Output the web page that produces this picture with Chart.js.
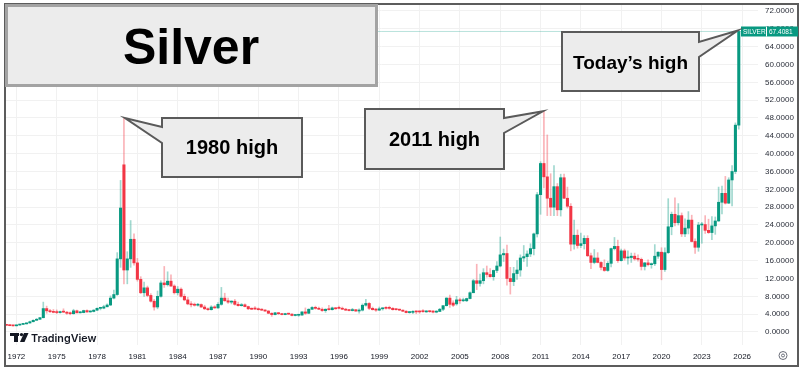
<!DOCTYPE html>
<html>
<head>
<meta charset="utf-8">
<script src="https://cdn.jsdelivr.net/npm/chart.js@4.4.1/dist/chart.umd.min.js"></script>
<style>
  html, body { margin: 0; padding: 0; background: #ffffff; }
  #wrap { width: 800px; height: 369px; position: relative; }
</style>
</head>
<body>
<div id="wrap"><canvas id="c" width="800" height="369"></canvas></div>
<script>
// ---------- DATA (quarterly candles, USD/oz) ----------
const firstYear = 1971, lastYear = 2025;
const categories = [];
for (let y = firstYear; y <= lastYear; y++) for (let q = 1; q <= 4; q++) categories.push(y + ' Q' + q);

const open = [
  1.60,1.52,1.50,1.42, 1.38,1.55,1.70,1.82, 2.02,2.30,2.62,2.85, 3.20,5.25,4.75,4.55,
  4.40,4.35,4.55,4.45, 4.20,4.10,4.75,4.30, 4.35,4.80,4.50,4.60, 4.90,5.30,5.35,5.65,
  6.05,7.60,8.40,16.40, 37.50,13.90,16.40,20.80, 15.50,11.80,8.80,9.90, 8.20,6.90,5.60,8.00,
  11.00,10.60,11.40,10.30, 8.80,9.60,8.00,7.20, 6.30,6.10,6.00,6.15, 5.60,5.20,5.00,5.60,
  5.40,6.20,7.60,7.00, 6.70,6.90,6.20,5.90, 6.10,5.70,5.20,5.30, 5.15,5.00,4.90,4.70,
  4.20,3.90,4.30,4.10, 3.90,4.10,4.00,3.70, 3.75,3.80,4.50,4.20, 5.10,5.50,5.30,5.10,
  4.80,5.10,5.00,5.40, 5.50,5.30,5.10,4.90, 4.80,5.00,4.70,4.90, 6.00,6.40,5.30,5.00,
  4.90,5.20,5.50,5.40, 5.30,5.10,5.00,4.90, 4.65,4.35,4.40,4.60, 4.55,4.70,4.50,4.65,
  4.70,4.45,4.60,5.10, 5.90,7.60,6.50,6.30, 7.20,7.00,7.00,7.50, 8.80,11.50,10.90,11.50,
  13.30,12.90,12.40,13.80, 14.80,17.30,17.60,12.00, 11.30,13.10,13.90,16.60, 16.90,17.50,18.70,22.00,
  30.80,37.80,34.80,30.00, 28.00,32.60,27.40,34.60, 30.00,28.20,19.70,21.70, 19.40,19.80,21.00,17.10,
  15.60,16.60,15.60,14.50, 13.80,15.40,18.70,19.20, 16.00,18.20,16.60,16.70, 17.00,16.40,16.30,14.70,
  15.50,15.10,15.30,17.00, 17.90,14.00,17.80,23.60, 26.40,24.50,26.10,22.00, 23.30,25.10,20.30,19.00,
  24.00,24.10,22.80,22.30, 23.80,24.90,29.10,31.10, 28.90,34.10,36.00,46.40
];
const high = [
  1.66,1.62,1.56,1.48, 1.58,1.75,1.90,2.05, 2.45,2.75,3.05,3.30, 6.70,5.80,5.10,5.05,
  4.95,4.70,5.20,4.60, 4.50,5.10,4.90,4.60, 4.90,4.95,4.70,5.00, 5.40,5.55,6.00,6.30,
  8.10,9.40,17.80,34.00, 48.00,18.00,25.00,22.00, 16.50,12.40,11.20,10.30, 8.60,7.30,9.20,11.50,
  14.70,13.50,12.80,10.60, 10.20,9.90,8.50,7.80, 6.80,6.50,6.40,6.30, 6.00,5.40,5.90,5.90,
  6.60,10.00,8.70,7.60, 7.00,7.30,6.70,6.40, 6.30,5.80,5.40,5.70, 5.40,5.20,5.05,4.80,
  4.30,4.40,4.40,4.20, 4.20,4.20,4.10,3.90, 3.85,4.60,5.40,5.20, 5.70,5.80,5.60,5.40,
  5.20,6.00,5.60,5.50, 5.80,5.60,5.30,5.00, 5.30,5.00,5.20,6.30, 7.30,6.60,5.60,5.30,
  5.60,5.40,5.70,5.80, 5.50,5.20,5.10,4.95, 4.80,4.60,4.80,4.70, 4.70,5.00,4.80,4.75,
  4.80,4.80,5.30,5.90, 7.70,8.30,7.00,8.00, 7.60,7.60,7.60,9.00, 11.80,15.20,13.00,14.20,
  14.80,14.20,13.90,15.80, 21.30,18.60,19.50,14.50, 14.50,16.00,17.30,19.40, 18.20,19.80,22.20,31.30,
  38.20,49.50,44.20,35.50, 37.30,33.30,35.40,35.40, 32.50,28.80,25.10,22.90, 22.20,21.60,21.60,17.70,
  18.50,17.80,15.80,16.20, 15.80,18.80,21.20,20.60, 18.60,18.60,18.20,17.70, 17.70,17.30,16.60,15.60,
  16.20,15.50,19.60,18.00, 18.90,18.90,29.90,26.90, 30.10,28.80,26.70,25.40, 27.00,26.20,20.90,24.60,
  24.60,26.10,25.30,25.90, 25.80,32.50,32.70,34.90, 34.60,37.30,46.90,67.60
];
const low = [
  1.50,1.46,1.38,1.30, 1.36,1.52,1.66,1.78, 1.98,2.25,2.60,2.80, 3.15,4.20,4.35,4.30,
  4.10,4.20,4.35,3.95, 3.85,4.00,4.25,4.25, 4.30,4.40,4.40,4.50, 4.80,4.95,5.20,5.60,
  5.90,7.40,8.20,14.50, 10.80,10.80,14.50,15.00, 11.40,8.60,8.00,7.90, 6.70,4.90,5.20,7.80,
  10.00,10.30,10.20,8.50, 8.30,7.80,7.00,6.10, 5.60,5.80,5.80,5.50, 5.00,4.85,4.90,5.30,
  5.30,6.00,6.90,6.40, 6.30,6.00,5.80,5.80, 5.60,5.00,5.00,5.00, 4.90,4.80,4.60,4.10,
  3.50,3.80,3.90,3.80, 3.85,3.90,3.60,3.60, 3.50,3.70,3.95,4.10, 5.00,5.10,5.00,4.60,
  4.40,4.90,4.90,5.10, 5.20,5.00,4.80,4.70, 4.70,4.60,4.20,4.70, 5.80,5.00,4.90,4.60,
  4.80,4.90,5.10,5.10, 4.90,4.90,4.80,4.60, 4.30,4.20,4.10,4.10, 4.20,4.40,4.40,4.40,
  4.30,4.30,4.60,4.80, 5.80,5.50,5.70,6.00, 6.40,6.80,6.80,7.40, 8.80,9.50,10.30,10.80,
  12.30,12.30,11.60,13.30, 14.60,15.80,10.50,8.50, 10.40,11.80,12.50,15.80, 14.70,16.90,17.30,21.30,
  26.40,32.30,26.10,26.10, 26.10,26.10,26.00,29.90, 27.80,18.20,18.60,18.80, 18.90,18.60,16.90,14.20,
  15.30,15.50,13.90,13.60, 13.60,14.60,18.40,15.60, 15.90,16.10,15.20,15.60, 16.10,15.90,13.90,13.90,
  14.80,14.30,14.90,16.50, 11.70,13.60,17.60,21.80, 23.80,24.00,21.40,21.40, 22.00,20.20,17.60,18.10,
  19.90,22.10,22.10,20.70, 21.90,24.80,26.50,28.70, 28.80,28.30,35.50,45.50
];
const close = [
  1.52,1.50,1.42,1.38, 1.55,1.70,1.82,2.02, 2.30,2.62,2.85,3.20, 5.25,4.75,4.55,4.40,
  4.35,4.55,4.45,4.20, 4.10,4.75,4.30,4.35, 4.80,4.50,4.60,4.90, 5.30,5.35,5.65,6.05,
  7.60,8.40,16.40,27.80, 13.90,16.40,20.80,15.50, 11.80,8.80,9.90,8.20, 6.90,5.60,8.00,11.00,
  10.60,11.40,10.30,8.80, 9.60,8.00,7.20,6.30, 6.10,6.00,6.15,5.60, 5.20,5.00,5.60,5.40,
  6.20,7.60,7.00,6.70, 6.90,6.20,5.90,6.10, 5.70,5.20,5.10,5.15, 5.00,4.90,4.70,4.20,
  3.90,4.30,4.10,3.90, 4.10,4.00,3.70,3.75, 3.80,4.50,4.20,5.10, 5.50,5.30,5.10,4.80,
  5.10,5.00,5.40,5.20, 5.30,5.10,4.90,4.80, 5.00,4.70,4.90,6.00, 6.40,5.30,5.00,4.90,
  5.20,5.30,5.30,5.30, 5.00,5.00,4.90,4.65, 4.35,4.40,4.60,4.50, 4.50,4.55,4.60,4.55,
  4.45,4.60,5.10,5.90, 7.60,6.20,6.00,7.20, 7.00,7.20,7.50,8.80, 11.50,10.90,11.50,13.30,
  12.90,12.40,13.80,14.80, 17.30,17.60,12.00,11.30, 13.10,13.90,16.60,16.90, 17.50,18.70,22.00,30.80,
  37.80,34.80,30.00,28.00, 32.60,27.40,34.60,30.00, 28.20,19.70,21.70,19.40, 19.80,21.00,17.10,15.60,
  16.60,15.60,14.50,13.80, 15.40,18.70,19.20,16.00, 18.20,16.60,16.70,17.00, 16.40,16.30,14.70,15.50,
  15.10,15.30,17.00,17.90, 14.00,17.80,23.60,26.40, 24.50,26.10,22.00,23.30, 25.10,20.30,19.00,24.00,
  24.10,22.80,22.30,23.80, 24.90,29.10,31.10,28.90, 34.10,36.00,46.40,67.4081
];
const xTickYears = [1972,1975,1978,1981,1984,1987,1990,1993,1996,1999,2002,2005,2008,2011,2014,2017,2020,2023,2026];
const yTicks = [0,4,8,12,16,20,24,28,32,36,40,44,48,52,56,60,64,68,72];
const symbol = 'SILVER';
const titleText = 'Silver';
const callouts = [
  { text: '1980 high', at: '1980 Q1' },
  { text: '2011 high', at: '2011 Q2' },
  { text: 'Today\u2019s high', at: '2025 Q4' }
];

// ---------- helpers ----------
const GREEN = '#089981', RED = '#F23645';
const GREEN_W = 'rgba(8,153,129,0.38)', RED_W = 'rgba(242,54,69,0.38)';
const xPos = categories.map(c => { const p = c.split(' Q'); return +p[0] + (+p[1] - 1) / 4; });
const isUp = i => close[i] >= open[i];
const lastPrice = close[close.length - 1];
const X_MIN = 1971.15, X_MAX = 2027.18;

// ---------- overlay plugin (frame, title, callouts, tags, logo) ----------
const overlay = {
  id: 'overlay',
  afterDraw(chart) {
    const ctx = chart.ctx, xs = chart.scales.x, ys = chart.scales.y;
    ctx.save();

    // outer frame
    ctx.strokeStyle = '#5c5c5c';
    ctx.lineWidth = 2;
    ctx.strokeRect(5, 4, 793, 362);

    // price tag on the right axis
    const py = Math.round(ys.getPixelForValue(lastPrice)) + 0.5;
    ctx.fillStyle = GREEN;
    ctx.fillRect(741, py - 5, 57, 10);
    ctx.strokeStyle = '#ffffff'; ctx.lineWidth = 1;
    ctx.beginPath(); ctx.moveTo(766.5, py - 5); ctx.lineTo(766.5, py + 5); ctx.stroke();
    ctx.fillStyle = '#ffffff';
    ctx.font = '6.5px "Liberation Sans", Arial, sans-serif';
    ctx.textBaseline = 'middle'; ctx.textAlign = 'left';
    ctx.fillText(symbol, 743, py + 0.5);
    ctx.fillText(lastPrice.toFixed(4), 769, py + 0.5);

    // title box
    ctx.fillStyle = '#ececec';
    ctx.fillRect(5, 4, 373, 83);
    ctx.strokeStyle = '#a3a3a3'; ctx.lineWidth = 3;
    ctx.strokeRect(6.5, 5.5, 370, 80);
    ctx.fillStyle = '#000000';
    ctx.font = 'bold 50px "Liberation Sans", Arial, sans-serif';
    ctx.textAlign = 'center'; ctx.textBaseline = 'alphabetic';
    ctx.fillText(titleText, 191, 64);

    // callouts
    const boxes = [
      { x0: 162, y0: 118, x1: 302, y1: 177, side: 'left',  b1: 127, b2: 143, ty: 154, font: 20 },
      { x0: 365, y0: 109, x1: 504, y1: 169, side: 'right', b1: 118, b2: 133, ty: 146, font: 20 },
      { x0: 562, y0: 32,  x1: 699, y1: 91,  side: 'right', b1: 42,  b2: 57,  ty: 69,  font: 19 }
    ];
    callouts.forEach((c, k) => {
      const b = boxes[k];
      const idx = categories.indexOf(c.at);
      const tx = xs.getPixelForValue(xPos[idx]) + (b.side === 'left' ? 1 : -1);
      const tyy = ys.getPixelForValue(high[idx]);
      ctx.beginPath();
      if (b.side === 'left') {
        ctx.moveTo(b.x0, b.y0); ctx.lineTo(b.x1, b.y0); ctx.lineTo(b.x1, b.y1);
        ctx.lineTo(b.x0, b.y1); ctx.lineTo(b.x0, b.b2); ctx.lineTo(tx, tyy); ctx.lineTo(b.x0, b.b1);
      } else {
        ctx.moveTo(b.x0, b.y0); ctx.lineTo(b.x1, b.y0); ctx.lineTo(b.x1, b.b1); ctx.lineTo(tx, tyy);
        ctx.lineTo(b.x1, b.b2); ctx.lineTo(b.x1, b.y1); ctx.lineTo(b.x0, b.y1);
      }
      ctx.closePath();
      ctx.fillStyle = '#ececec'; ctx.fill();
      ctx.strokeStyle = '#5a5a5a'; ctx.lineWidth = 2; ctx.lineJoin = 'miter'; ctx.stroke();
      ctx.fillStyle = '#000000';
      ctx.font = 'bold ' + b.font + 'px "Liberation Sans", Arial, sans-serif';
      ctx.textAlign = 'center'; ctx.textBaseline = 'alphabetic';
      ctx.fillText(c.text, (b.x0 + b.x1) / 2, b.ty);
    });

    // TradingView logo
    ctx.fillStyle = '#131722';
    ctx.fillRect(10, 333, 9, 3);
    ctx.fillRect(14, 333, 4, 9);
    ctx.beginPath(); ctx.arc(21.5, 334.6, 1.7, 0, Math.PI * 2); ctx.fill();
    ctx.beginPath(); ctx.moveTo(24, 333); ctx.lineTo(28.5, 333); ctx.lineTo(24.5, 342); ctx.lineTo(20, 342); ctx.closePath(); ctx.fill();
    let fs = 13;
    ctx.font = '600 ' + fs + 'px Inter, Roboto, sans-serif';
    while (ctx.measureText('TradingView').width > 67 && fs > 8) { fs -= 0.25; ctx.font = '600 ' + fs + 'px Inter, Roboto, sans-serif'; }
    ctx.textAlign = 'left'; ctx.textBaseline = 'alphabetic';
    ctx.fillText('TradingView', 31, 342);

    // settings icon bottom-right
    ctx.strokeStyle = '#6a6d78'; ctx.lineWidth = 1;
    ctx.beginPath(); ctx.arc(783, 355.5, 4, 0, Math.PI * 2); ctx.stroke();
    ctx.beginPath(); ctx.arc(783, 355.5, 1.5, 0, Math.PI * 2); ctx.stroke();

    ctx.restore();
  }
};

// ---------- chart ----------
new Chart(document.getElementById('c'), {
  type: 'bar',
  data: {
    datasets: [
      {
        type: 'line',
        label: 'last',
        data: [{ x: X_MIN, y: lastPrice }, { x: X_MAX, y: lastPrice }],
        borderColor: 'rgba(8,153,129,0.28)',
        borderWidth: 1,
        pointRadius: 0,
        order: 3
      },
      {
        label: 'wick',
        data: xPos.map((x, i) => ({ x: x, y: [low[i], high[i]] })),
        backgroundColor: ctx => isUp(ctx.dataIndex) ? GREEN_W : RED_W,
        barThickness: 1,
        grouped: false,
        order: 2
      },
      {
        label: 'body',
        data: xPos.map((x, i) => ({ x: x, y: [open[i], close[i]] })),
        backgroundColor: ctx => isUp(ctx.dataIndex) ? GREEN : RED,
        barThickness: 2.4,
        minBarLength: 1,
        grouped: false,
        order: 1
      }
    ]
  },
  options: {
    responsive: false,
    animation: false,
    events: [],
    layout: { padding: { left: 5, top: 4, right: 2, bottom: 3 } },
    plugins: { legend: { display: false }, tooltip: { enabled: false }, title: { display: false } },
    scales: {
      x: {
        type: 'linear',
        min: X_MIN, max: X_MAX,
        offset: false,
        position: 'bottom',
        afterBuildTicks: s => { s.ticks = xTickYears.map(v => ({ value: v })); },
        afterFit: s => { s.height = 21; s.paddingLeft = 0; s.paddingRight = 0; },
        grid: { color: '#f1f1f1', drawTicks: false, offset: false },
        border: { display: false },
        ticks: {
          autoSkip: false, maxRotation: 0, padding: 7,
          color: '#131722',
          font: { size: 8, family: '"Liberation Sans", Arial, sans-serif' },
          callback: v => String(v)
        }
      },
      y: {
        position: 'right',
        min: -2.92, max: 73.57,
        afterBuildTicks: s => { s.ticks = yTicks.map(v => ({ value: v })); },
        afterFit: s => { s.width = 40; s.paddingTop = 0; s.paddingBottom = 0; },
        grid: { color: '#f1f1f1', drawTicks: false },
        border: { display: false },
        ticks: {
          padding: 7,
          color: '#2a2e39',
          font: { size: 8, family: '"Liberation Sans", Arial, sans-serif' },
          callback: v => Number(v).toFixed(4)
        }
      }
    }
  },
  plugins: [overlay]
});
</script>
</body>
</html>
